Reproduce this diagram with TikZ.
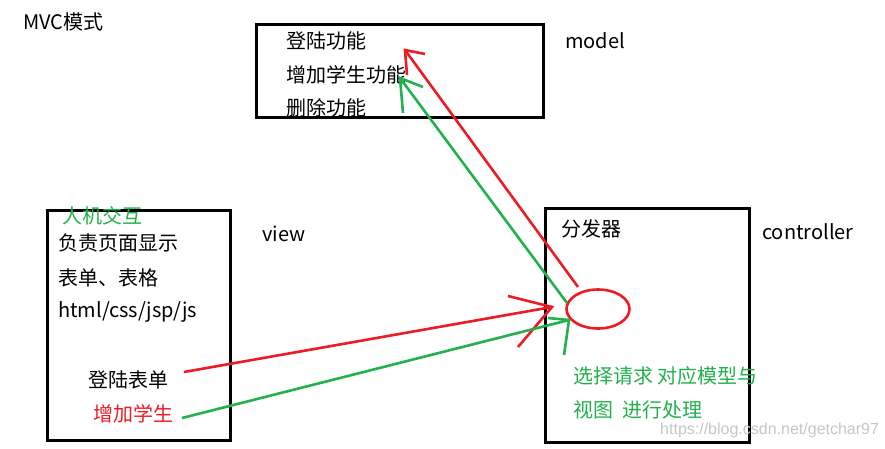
\documentclass[tikz,border=0pt]{standalone}
\usepackage{fontspec}
\setmainfont{Noto Sans CJK SC}
\newfontfamily\wmfont{Liberation Sans}
\usetikzlibrary{shapes.geometric}
\definecolor{pred}{HTML}{ED1C24}
\definecolor{pgreen}{HTML}{22B14C}
\begin{document}
\begin{tikzpicture}[x=1pt,y=-1pt,
  box/.style={draw=black,line width=3pt},
  txt/.style={anchor=west,inner sep=0pt,font=\fontsize{20}{22}\selectfont},
  redl/.style={draw=pred,line width=2.6pt},
  greenl/.style={draw=pgreen,line width=2.6pt}]
\useasboundingbox[fill=white] (0,0) rectangle (885,448);
% boxes
\draw[box] (256,24) rectangle (543,117);
\draw[box] (47,210) rectangle (230,440);
\draw[box] (545,208) rectangle (749,442);
% labels
\node[txt] (mvc) at (23,22) {MVC模式};
\node[txt] (model) at (565,41) {model};
\node[txt] (view) at (262,234) {view};
\node[txt] (ctrl) at (762,232) {controller};
% model texts
\node[txt] (m1) at (286,41) {登陆功能};
\node[txt] (m2) at (286,75) {增加学生功能};
\node[txt] (m3) at (286,108) {删除功能};
% view texts
\node[txt,text=pgreen] (v0) at (62,216) {人机交互};
\node[txt] (v1) at (58,243) {负责页面显示};
\node[txt] (v2) at (58,278) {表单、表格};
\node[txt] (v3) at (58,312) {html/css/jsp/js};
\node[txt] (v4) at (88,380) {登陆表单};
\node[txt,text=pred] (v5) at (93,414) {增加学生};
% controller texts
\node[txt] (c1) at (561,229) {分发器};
\node[txt,text=pgreen] (c2) at (573,376) {选择请求 对应模型与};
\node[txt,text=pgreen] (c3) at (573,410) {视图\ \ 进行处理};
% dispatcher ellipse
\node[ellipse,draw=pred,line width=2.6pt,minimum width=63pt,minimum height=39pt,inner sep=0pt] (disp) at (598,309) {};
% watermark
\node[anchor=west,inner sep=0pt,text=black!22,font=\wmfont\fontsize{16}{18}\selectfont] (wm) at (660,430) {https://blog.csdn.net/getchar97};
% arrow coordinates
\coordinate (r1s) at (184,372);
\coordinate (r1t) at (552,307);
\coordinate (r1a) at (508,296);
\coordinate (r1b) at (518,347);
\coordinate (g1s) at (182,418);
\coordinate (g1t) at (569,320);
\coordinate (g1a) at (548,318);
\coordinate (g1b) at (564,355);
\coordinate (g2s) at (567,303);
\coordinate (g2t) at (400,78);
\coordinate (g2a) at (423,87);
\coordinate (g2b) at (403,113);
\coordinate (r2s) at (578,287);
\coordinate (r2t) at (405,50);
\coordinate (r2a) at (425,54);
\coordinate (r2b) at (407,75);
% arrows
\draw[redl] (r1s) -- (r1t);
\draw[redl] (r1a) -- (r1t) -- (r1b);
\draw[greenl] (g1s) -- (g1t);
\draw[greenl] (g1a) -- (g1t) -- (g1b);
\draw[greenl] (g2s) -- (g2t);
\draw[greenl] (g2a) -- (g2t) -- (g2b);
\draw[redl] (r2s) -- (r2t);
\draw[redl] (r2a) -- (r2t) -- (r2b);
\end{tikzpicture}
\end{document}
